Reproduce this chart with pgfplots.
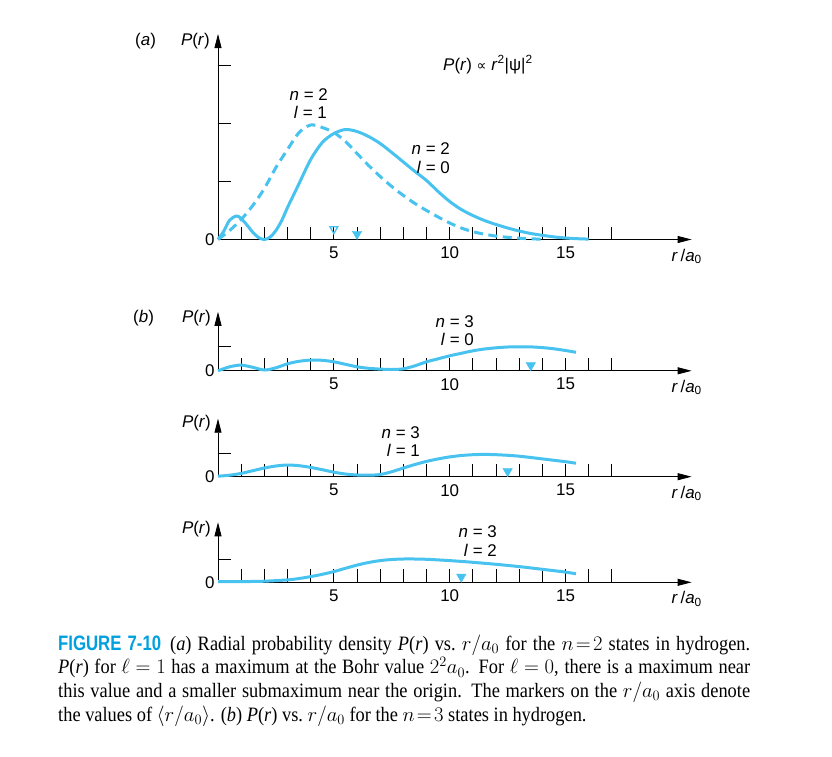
\documentclass[border=0pt]{standalone}
\usepackage{pgfplots}
\pgfplotsset{compat=1.18}
\usetikzlibrary{arrows.meta}
\usepackage{fontspec}
\setmainfont{Liberation Sans}
\newfontfamily\capfont{Liberation Serif}[FakeStretch=0.9, ItalicFeatures={FakeStretch=0.9}, BoldFeatures={FakeStretch=0.9}]
\newfontfamily\figfont{Liberation Sans}[FakeStretch=0.8, BoldFeatures={FakeStretch=0.8}]
\newfontfamily\symfont{DejaVu Sans}
\definecolor{cy}{RGB}{72,194,238}
\definecolor{figblue}{RGB}{0,160,222}
\newcommand{\lab}{\fontsize{17}{20}\selectfont}
\pgfplotsset{
  panel/.style={
    anchor=south west, x=23.17bp, y=1bp, xmin=0, xmax=20.44, ymin=0,
    enlargelimits=false, clip=false,
    axis lines=left,
    axis line style={line width=0.8bp, -{Triangle[length=14bp,width=7bp]}},
    tick style={line width=0.8bp, black},
    tick align=inside,
    major tick length=13bp,
    xtick={1,...,17},
    xticklabels={,,,,5,,,,,10,,,,,15,,},
    ticklabel style={font=\lab},
    xticklabel style={yshift=-4bp},
    yticklabel style={xshift=0bp},
    /pgf/number format/assume math mode=true,
  },
  curve/.style={cy, line width=3bp, smooth, tension=0.5},
  fmark/.style={only marks, mark=triangle*, mark size=5.5bp, mark options={rotate=180, draw=cy, fill=cy}},
}
\begin{document}
\begin{tikzpicture}
\path[use as bounding box] (0,0) rectangle (832bp,-757bp);
% ---------- panel (a)
\begin{axis}[panel, at={(218bp,-239.5bp)}, ymax=205.5, ytick={0,58,116,174}, yticklabels={0,,,}]
\addplot[curve] coordinates {
(0,0) (0.25,8.4) (0.5,19.3) (0.8,23.5) (1.0,21) (1.25,14.5) (1.5,7.3) (1.75,2) (2,0)
(2.25,2.4) (2.5,9) (2.75,19) (3,32) (3.25,44) (3.5,56) (4,80) (4.5,97) (5,106) (5.5,110)
(6,108) (6.5,103) (7,96) (7.5,87) (8,77.5) (8.5,68) (9,59) (9.5,48) (10,38) (10.5,30)
(11,24) (11.5,19) (12,15) (12.5,11.5) (13,8.5) (13.5,6) (14,4.2) (14.5,2.6) (15,1.5) (15.5,0.8) (16,0.4)};
\addplot[curve, dash pattern=on 9bp off 5.5bp] coordinates {
(0,0) (0.5,9) (1,20) (1.5,34) (2,51) (2.5,72) (3,90) (3.5,107) (4,114.5) (4.5,112) (5,107)
(5.5,98) (6,86) (6.5,74) (7,63) (7.5,53) (8,44) (8.5,36) (9,29) (9.5,22.5) (10,16.5)
(10.5,11.5) (11,7.8) (11.5,5.3) (12,3.4) (12.5,2.2) (13,1.3) (13.5,0.7) (14,0.3)};
\addplot[only marks, mark=triangle, mark size=4.6bp, mark options={rotate=180, draw=cy, fill=white, line width=1.3bp, solid}] coordinates {(5,10.5)};
\addplot[fmark] coordinates {(6,5.5)};
\node[anchor=base east, inner sep=0] at (axis cs:20.89,-21.5) {\lab\textit{r}\,/\textit{a}\textsubscript{0}};
\end{axis}
% ---------- panel (b)
\begin{axis}[panel, at={(218bp,-370.8bp)}, ymax=59, ytick={0,24}, yticklabels={0,}]
\addplot[curve] coordinates {
(0,0) (0.5,4) (1,5.7) (1.5,3.5) (2,0.8) (2.5,3) (3,7) (3.5,9.5) (4,10.7) (4.5,10.5) (5,9)
(5.5,6.5) (6,4) (6.5,2.5) (7,1.7) (7.5,1.3) (8,2) (8.5,5) (9,9) (9.5,12) (10,15) (10.5,17.5)
(11,20) (11.5,21.8) (12,23) (12.5,23.8) (13,24) (13.5,23.9) (14,23.2) (14.5,22) (15,20.3) (15.45,18.5)};
\addplot[fmark] coordinates {(13.5,5.5)};
\node[anchor=base east, inner sep=0] at (axis cs:20.89,-21.5) {\lab\textit{r}\,/\textit{a}\textsubscript{0}};
\end{axis}
% ---------- panel (c)
\begin{axis}[panel, at={(218bp,-476.7bp)}, ymax=58, ytick={0,23}, yticklabels={0,}]
\addplot[curve] coordinates {
(0,0.5) (0.5,1.5) (1,3.3) (1.5,6) (2,8.7) (2.5,10.7) (3,11.7) (3.5,11) (4,9.3) (4.5,7) (5,4.5)
(5.5,2.7) (6,1.7) (6.5,1.5) (7,2.2) (7.5,5) (8,8.7) (8.5,12.2) (9,15.3) (9.5,17.8) (10,19.8)
(10.5,21.2) (11,22) (11.5,22.3) (12,22) (12.5,21.4) (13,20.5) (13.5,19.2) (14,17.8) (14.5,16.4) (15,15) (15.45,13.5)};
\addplot[fmark] coordinates {(12.5,5.5)};
\node[anchor=base east, inner sep=0] at (axis cs:20.89,-21.5) {\lab\textit{r}\,/\textit{a}\textsubscript{0}};
\end{axis}
% ---------- panel (d)
\begin{axis}[panel, at={(218bp,-582.3bp)}, ymax=60, ytick={0,23}, yticklabels={0,}]
\addplot[curve] coordinates {
(0,0.7) (1,0.7) (2,1.1) (3,2.4) (3.5,3.8) (4,5.7) (4.5,8) (5,10.7) (5.5,14) (6,17.2) (6.5,19.8)
(7,21.7) (7.5,22.8) (8,23.3) (8.5,23.3) (9,23) (9.5,22.4) (10,21.7) (10.5,20.9) (11,20)
(12,18) (13,15.7) (14,13) (15,10.2) (15.45,8.5)};
\addplot[fmark] coordinates {(10.5,5.5)};
\node[anchor=base east, inner sep=0] at (axis cs:20.89,-21.5) {\lab\textit{r}\,/\textit{a}\textsubscript{0}};
\end{axis}
% ---------- texts
\begin{scope}[every node/.style={inner sep=0, font=\lab}]
\node[anchor=base west] at (135bp,-45.5bp) {(\textit{a})};
\node[anchor=base east] at (210bp,-45.5bp) {\textit{P}(\textit{r})};
\node[anchor=base west] at (443bp,-70bp) {\textit{P}(\textit{r}) {\symfont\fontsize{14}{16}\selectfont ∝} \textit{r}\textsuperscript{2}|ψ|\textsuperscript{2}};
\node[anchor=base east] at (328bp,-100bp) {\textit{n} = 2};
\node[anchor=base east] at (327bp,-118.3bp) {\textit{l} = 1};
\node[anchor=base east] at (450bp,-154bp) {\textit{n} = 2};
\node[anchor=base east] at (450bp,-173bp) {\textit{l} = 0};
\node[anchor=base west] at (133bp,-322bp) {(\textit{b})};
\node[anchor=base east] at (211bp,-322bp) {\textit{P}(\textit{r})};
\node[anchor=base east] at (474bp,-327.5bp) {\textit{n} = 3};
\node[anchor=base east] at (474bp,-345.5bp) {\textit{l} = 0};
\node[anchor=base east] at (211bp,-427bp) {\textit{P}(\textit{r})};
\node[anchor=base east] at (420bp,-438.4bp) {\textit{n} = 3};
\node[anchor=base east] at (420bp,-456.7bp) {\textit{l} = 1};
\node[anchor=base east] at (211bp,-533.5bp) {\textit{P}(\textit{r})};
\node[anchor=base east] at (497bp,-537.7bp) {\textit{n} = 3};
\node[anchor=base east] at (497bp,-556bp) {\textit{l} = 2};
\end{scope}
% ---------- caption
\node[anchor=base west, inner sep=0] at (58bp,-650bp) {\parbox[t]{692bp}{\noindent\capfont\fontsize{20.5}{24}\selectfont
\thickmuskip=5mu\medmuskip=4mu
{\figfont\bfseries\fontsize{21}{24}\selectfont\color{figblue}FIGURE 7-10}\hspace{9bp}(\textit{a}) Radial probability density \textit{P}(\textit{r}) vs.\ $r/a_0$ for the $n\!=\!2$ states in hydrogen.\linebreak
\textit{P}(\textit{r}) for $\ell = 1$ has a maximum at the Bohr value $2^2a_0$. For $\ell = 0$, there is a maximum near\linebreak
this value and a smaller submaximum near the origin. The markers on the $r/a_0$ axis denote\linebreak
the values of $\bigl\langle r/a_0\bigr\rangle$. (\textit{b}) \textit{P}(\textit{r}) vs.\ $r/a_0$ for the $n\!=\!3$ states in hydrogen.}};
\end{tikzpicture}
\end{document}
